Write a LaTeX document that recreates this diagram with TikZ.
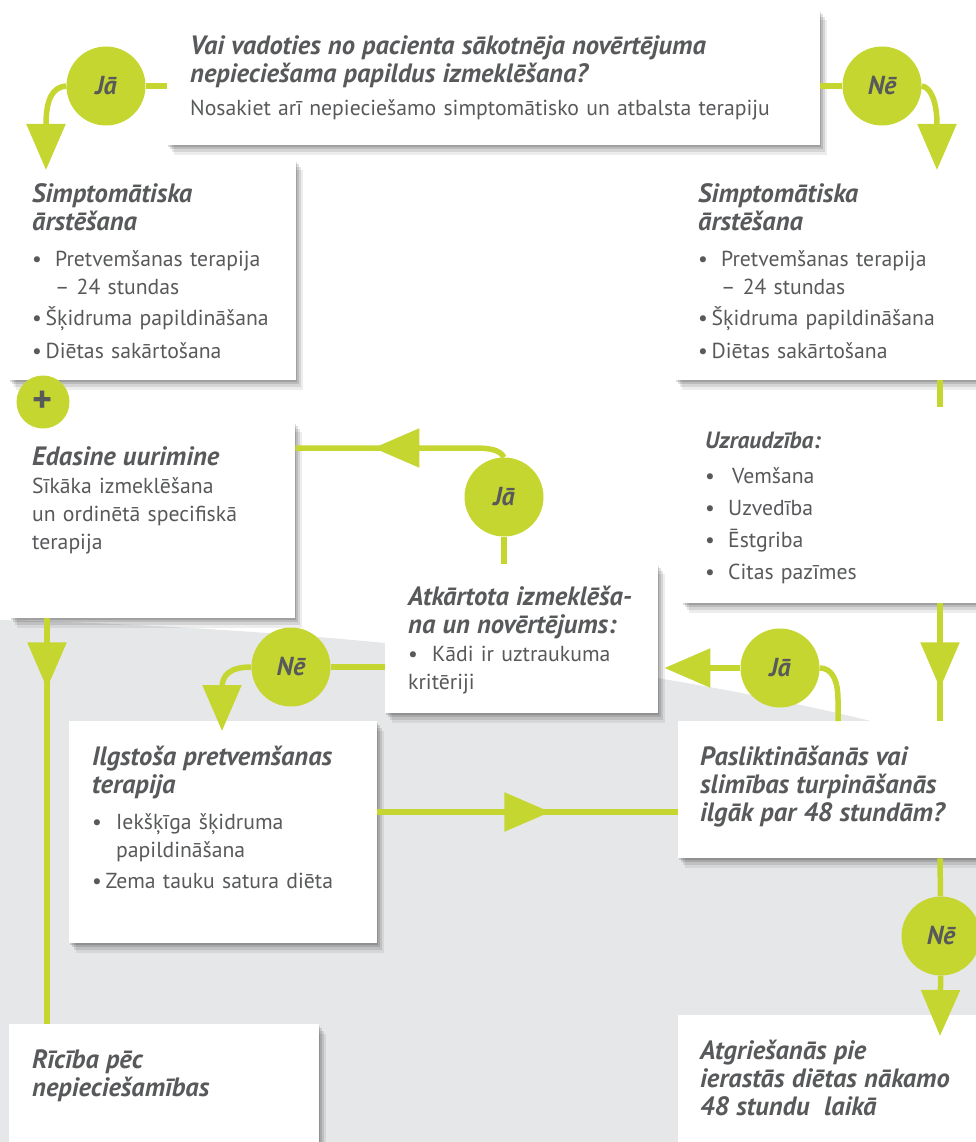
\documentclass[tikz,border=0pt]{standalone}
\usepackage{fontspec}
\setmainfont{PT Sans}
\usetikzlibrary{positioning,calc,shadows,arrows.meta,decorations.markings}

\definecolor{lime}{HTML}{C5D630}
\definecolor{txtgray}{HTML}{58595B}
\definecolor{bggray}{HTML}{E6E7E8}

\pgfdeclarelayer{back}
\pgfdeclarelayer{lines}
\pgfsetlayers{back,lines,main}

\newcommand{\hd}[1]{{\bfseries\itshape\fontsize{26.5}{28}\selectfont #1}}

\tikzset{
  box/.style={fill=white, anchor=north west, inner sep=0,
    drop shadow={shadow xshift=1pt, shadow yshift=-2pt, opacity=.14, fill=black},
    drop shadow={shadow xshift=3pt, shadow yshift=-4pt, opacity=.12, fill=black},
    drop shadow={shadow xshift=5pt, shadow yshift=-7pt, opacity=.10, fill=black},
    drop shadow={shadow xshift=7pt, shadow yshift=-10pt, opacity=.07, fill=black}},
  txt/.style={anchor=north west, inner sep=0, align=left, text width=600pt,
    text=txtgray, font=\fontsize{21.7}{28}\selectfont},
  dot/.style={circle, fill=lime, minimum size=79pt, inner sep=0, text=txtgray,
    font=\bfseries\itshape\fontsize{26}{26}\selectfont},
  link/.style={draw=lime, line width=5.5pt},
  tip/.style={-{Triangle[length=46pt,width=38pt]}},
  midtip/.style={postaction={decorate}, decoration={markings,
    mark=at position #1 with {\arrow[lime]{Triangle[length=46pt,width=38pt]}}}}
}

\begin{document}
\begin{tikzpicture}[x=1pt,y=1pt]
\path[use as bounding box, clip] (0,0) rectangle (976,-1142);

\begin{pgfonlayer}{back}
\fill[bggray] (0,-620) .. controls (400,-630) and (750,-680) .. (976,-750)
  -- (976,-1142) -- (0,-1142) -- cycle;

% boxes
\node[box, minimum width=653pt, minimum height=135pt] (q) at (167,-10) {};
\node[box, minimum width=287pt, minimum height=220pt] (symL) at (9,-160) {};
\node[box, minimum width=320pt, minimum height=220pt] (symR) at (675,-160) {};
\node[box, minimum width=285pt, minimum height=196pt] (edas) at (10,-422) {};
\node[box, minimum width=310pt, minimum height=196pt] (uzr) at (682,-407) {};
\node[box, minimum width=273pt, minimum height=149pt] (atk) at (385,-564) {};
\node[box, minimum width=308pt, minimum height=222pt] (ilg) at (69,-721) {};
\node[box, minimum width=320pt, minimum height=137pt] (pasl) at (678,-721) {};
\node[box, minimum width=310pt, minimum height=140pt] (ric) at (9,-1024) {};
\node[box, minimum width=320pt, minimum height=140pt] (atg) at (678,-1015) {};
\end{pgfonlayer}

\coordinate (colL) at (47,0);
\coordinate (colR) at (940,0);

% texts
\node[txt] (qt) at ($(q.north west)+(23,-25)$)
  {\hd{Vai vadoties no pacienta sākotnēja novērtējuma\\
   nepieciešama papildus izmeklēšana?}\\[5pt]
   Nosakiet arī nepieciešamo simptomātisko un atbalsta terapiju};
\node[txt] (symLt) at ($(symL.north west)+(23,-23)$)
  {\hd{Simptomātiska\\ ārstēšana}\\[8pt]
   \makebox[23pt][l]{•}Pretvemšanas terapija\\
   \hspace*{23pt}– 24 stundas\\[3pt]
   •\,Šķidruma papildināšana\\[5pt]
   •\,Diētas sakārtošana};
\node[txt] (symRt) at ($(symR.north west)+(23,-23)$)
  {\hd{Simptomātiska\\ ārstēšana}\\[8pt]
   \makebox[23pt][l]{•}Pretvemšanas terapija\\
   \hspace*{23pt}– 24 stundas\\[3pt]
   •\,Šķidruma papildināšana\\[5pt]
   •\,Diētas sakārtošana};
\node[txt] (edast) at ($(edas.north west)+(22,-24)$)
  {\hd{Edasine uurimine}\\
   Sīkāka izmeklēšana\\
   un ordinētā specifiskā\\
   terapija};
\node[txt, font=\fontsize{21.7}{32}\selectfont] (uzrt) at ($(uzr.north west)+(23,-25)$)
  {{\bfseries\itshape\fontsize{23.5}{28}\selectfont Uzraudzība:}\\[3pt]
   \makebox[27pt][l]{•}Vemšana\\
   \makebox[23pt][l]{•}Uzvedība\\
   \makebox[23pt][l]{•}Ēstgriba\\
   \makebox[23pt][l]{•}Citas pazīmes};
\node[txt] (atkt) at ($(atk.north west)+(23,-22)$)
  {\hd{Atkārtota izmeklēša-\\ na un novērtējums:}\\
   \makebox[24pt][l]{•}Kādi ir uztraukuma\\
   kritēriji};
\node[txt] (ilgt) at ($(ilg.north west)+(23,-25)$)
  {\hd{Ilgstoša pretvemšanas\\ terapija}\\[8pt]
   \makebox[24pt][l]{•}Iekšķīga šķidruma\\
   \hspace*{24pt}papildināšana\\[3pt]
   •\,Zema tauku satura diēta};
\node[txt] (paslt) at ($(pasl.north west)+(22,-25)$)
  {\hd{Pasliktināšanās vai\\ slimības turpināšanās\\ ilgāk par 48 stundām?}};
\node[txt] (rict) at ($(ric.north west)+(23,-25)$)
  {\hd{Rīcība pēc\\ nepieciešamības}};
\node[txt] (atgt) at ($(atg.north west)+(22,-25)$)
  {\hd{Atgriešanās pie\\ ierastās diētas nākamo\\ 48 stundu\ \ laikā}};

% decision dots
\node[dot] (jaA) at (106,-86) {Jā};
\node[dot] (neA) at (882,-86) {Nē};
\node[dot] (jaB) at (504,-497) {Jā};
\node[dot] (neB) at (291,-667) {Nē};
\node[dot] (jaC) at (780,-668) {Jā};
\node[dot] (neC) at (941,-936) {Nē};
\node[dot, minimum size=53pt, font=\bfseries\fontsize{38}{38}\selectfont] (plus) at (43,-402) {+};

% connectors
\begin{pgfonlayer}{lines}
\draw[link] (jaA) -- (jaA -| q.west);
\draw[link] (neA) -- (neA -| q.east);
\draw[link, tip] (jaA.west) .. controls (52,-87) and (46,-100) .. (46,-125)
  -- ($(symL.north west)+(37,-10)$);
\draw[link, tip] (neA.east) .. controls (930,-87) and (937,-100) .. (937,-125)
  -- ($(symR.north west)+(262,-10)$);

\draw[link] (symR.south -| colR) -- (uzr.north -| colR);
\draw[link, midtip=85pt] (uzr.south -| colR) -- (pasl.north -| colR);
\draw[link] (pasl.south -| colR) -- (neC);
\draw[link, tip] (neC) -- ($(atg.north -| colR)+(0,-21)$);

\draw[link, tip] (jaC) -- ($(atk.east |- jaC)+(6,0)$);
\draw[link] (jaC.east) .. controls (832,-668) and (838,-680) .. (838,-700)
  -- ($(pasl.north west)+(160,0)$);

\draw[link] (atk.west |- neB) -- (neB);
\draw[link, tip] (neB.west) .. controls (230,-667) and (222,-675) .. (222,-688)
  -- ($(ilg.north west)+(153,-10)$);

\draw[link] (atk.north -| jaB) -- (jaB);
\draw[link, midtip=-78pt] (jaB.north) .. controls (500,-450) and (490,-448) .. (475,-448)
  -- ($(edas.north east)+(0,-26)$);

\draw[link, midtip=173pt] ($(ilg.north east)+(0,-91)$) -- ($(pasl.north west)+(0,-91)$);
\draw[link, midtip=70pt] (edas.south -| colL) -- (ric.north -| colL);
\end{pgfonlayer}
\end{tikzpicture}
\end{document}
